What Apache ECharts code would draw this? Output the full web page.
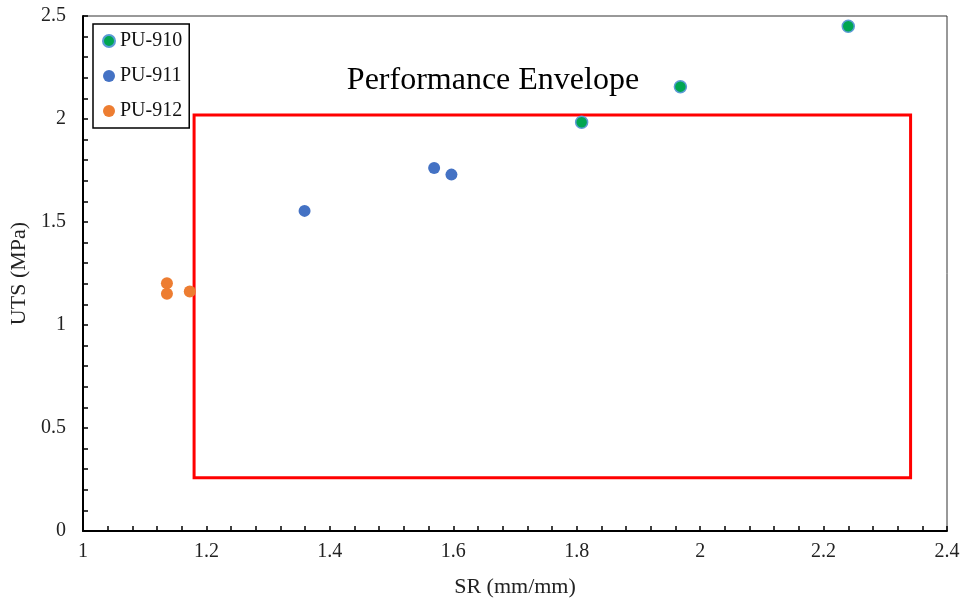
<!DOCTYPE html>
<html>
<head>
<meta charset="utf-8">
<script src="https://cdn.jsdelivr.net/npm/echarts@6/dist/echarts.min.js"></script>
<style>
  html, body { margin: 0; padding: 0; background: #fff; }
  #chart { width: 964px; height: 603px; }
</style>
</head>
<body>
<div id="chart"></div>
<script>
// SR (mm/mm) vs UTS (MPa) for three polyurethane grades
const seriesNames = ['PU-910', 'PU-911', 'PU-912'];
const pu910 = [[1.808, 1.984], [1.968, 2.157], [2.240, 2.450]];
const pu911 = [[1.359, 1.554], [1.569, 1.762], [1.597, 1.730]];
const pu912 = [[1.136, 1.203], [1.136, 1.152], [1.173, 1.163]];

// Performance envelope bounds: [SR min, UTS min], [SR max, UTS max]
const envelope = [[1.180, 0.259], [2.341, 2.019]];
const envelopeLabel = 'Performance Envelope';

const xTicks = { min: 1, max: 2.4, step: 0.2 };
const yTicks = { min: 0, max: 2.5, step: 0.5 };

const serif = 'Liberation Serif';
const chart = echarts.init(document.getElementById('chart'));

function fmt(v) {
  return String(parseFloat(v.toFixed(2)));
}

const axisCommon = {
  axisLine: { show: true, onZero: false, lineStyle: { color: '#000', width: 2 } },
  axisTick: { show: true, inside: true, length: 5, lineStyle: { color: '#000', width: 1.5 } },
  minorTick: { show: true, splitNumber: 5, length: 5, lineStyle: { color: '#000', width: 1.5 } },
  splitLine: { show: false },
  nameTextStyle: { fontFamily: serif, fontSize: 22, color: '#222' },
  axisLabel: { fontFamily: serif, fontSize: 20, color: '#222', formatter: fmt }
};

chart.setOption({
  animation: false,
  textStyle: { fontFamily: serif },
  grid: { left: 83, right: 17, top: 16, bottom: 71, show: true, borderColor: '#333', borderWidth: 1 },
  xAxis: Object.assign({}, axisCommon, {
    type: 'value', min: xTicks.min, max: xTicks.max, interval: xTicks.step,
    name: 'SR (mm/mm)', nameLocation: 'middle', nameGap: 45,
    axisLabel: Object.assign({}, axisCommon.axisLabel, { margin: 11 })
  }),
  yAxis: Object.assign({}, axisCommon, {
    type: 'value', min: yTicks.min, max: yTicks.max, interval: yTicks.step,
    name: 'UTS (MPa)', nameLocation: 'middle', nameGap: 52,
    axisLabel: Object.assign({}, axisCommon.axisLabel, { margin: 17 })
  }),
  legend: {
    orient: 'vertical', left: 93, top: 24,
    padding: [7, 7, 7, 9], itemGap: 15, itemWidth: 12, itemHeight: 12,
    borderColor: '#000', borderWidth: 1.5, backgroundColor: '#fff',
    textStyle: { fontFamily: serif, fontSize: 20, color: '#111', lineHeight: 20 },
    data: seriesNames.map(n => ({ name: n, icon: 'circle' }))
  },
  graphic: [{
    type: 'text', x: 493, y: 81,
    style: {
      text: envelopeLabel, font: '32px "Liberation Serif"', fill: '#000',
      textAlign: 'center', textVerticalAlign: 'middle'
    }
  }],
  series: [
    {
      name: seriesNames[0], type: 'scatter', data: pu910, symbolSize: 12, z: 5,
      itemStyle: { color: '#00A651', borderColor: '#5B9BD5', borderWidth: 1.5, opacity: 1 },
      markArea: {
        silent: true,
        itemStyle: { color: 'rgba(0,0,0,0)', borderColor: '#FF0000', borderWidth: 3 },
        data: [[{ coord: envelope[0] }, { coord: envelope[1] }]]
      }
    },
    {
      name: seriesNames[1], type: 'scatter', data: pu911, symbolSize: 12, z: 5,
      itemStyle: { color: '#4472C4', opacity: 1 }
    },
    {
      name: seriesNames[2], type: 'scatter', data: pu912, symbolSize: 12, z: 5,
      itemStyle: { color: '#ED7D31', opacity: 1 }
    }
  ]
});
</script>
</body>
</html>
